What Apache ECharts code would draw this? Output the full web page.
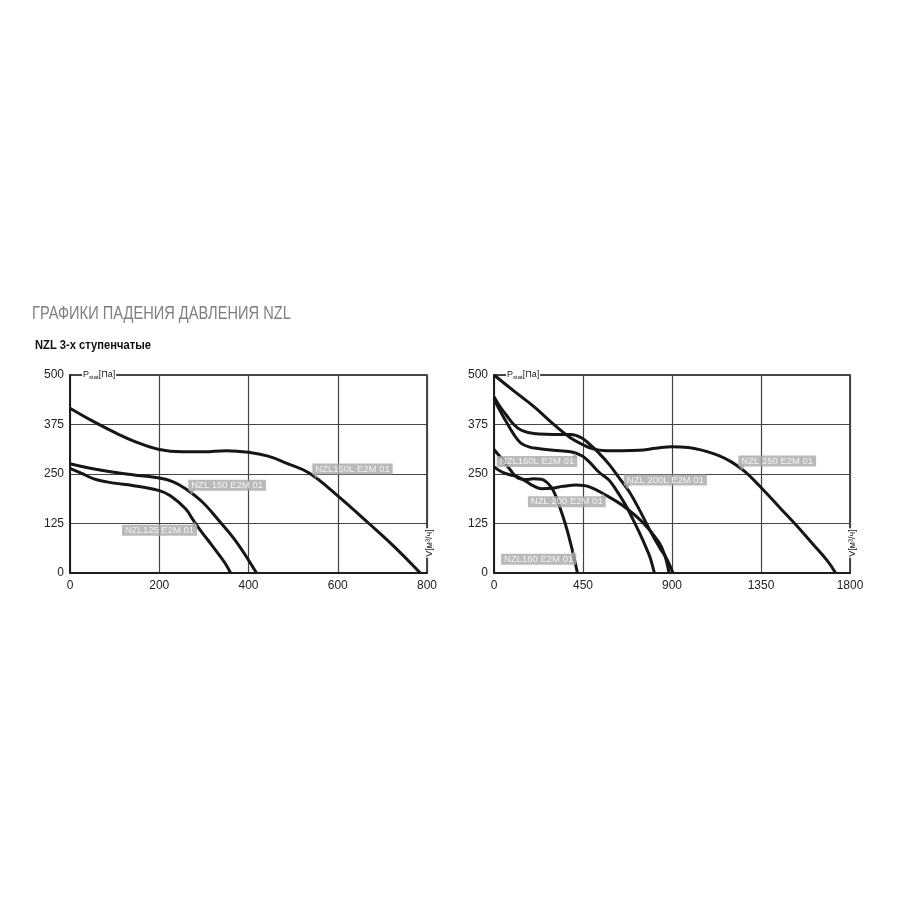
<!DOCTYPE html>
<html><head><meta charset="utf-8">
<script src="https://cdn.jsdelivr.net/npm/echarts@6/dist/echarts.min.js"></script>
<style>html,body{margin:0;padding:0;background:#fff}#c{width:900px;height:900px}</style>
</head><body><div id="c"></div>
<script>
// ---- tick values ----
const yTicks = [0, 125, 250, 375, 500];
const xTicksLeft = [0, 200, 400, 600, 800];
const xTicksRight = [0, 450, 900, 1350, 1800];

// ---- left chart curves (V м³/ч, P Па) ----
const nzl150L_V = [0, 50, 100, 150, 200, 250, 300, 350, 400, 444, 486, 535, 600, 670, 727, 785];
const nzl150L_P = [416, 384, 355, 330, 312, 306, 306, 309, 305, 295, 277, 253, 195, 125, 66, 0];
const nzl150_V = [0, 58, 140, 200, 230, 259, 296, 334, 372, 418];
const nzl150_P = [276, 262, 248, 240, 231, 213, 180, 132, 80, 0];
const nzl125_V = [0, 25, 58, 99, 140, 200, 225, 259, 277, 296, 316, 334, 348, 360];
const nzl125_P = [264, 252, 236, 227, 221, 208, 195, 162, 132, 102, 73, 46, 24, 0];

// ---- right chart curves ----
const nzl250_V = [0, 100, 202, 314, 388, 450, 497, 564, 649, 734, 818, 900, 982, 1045, 1140, 1202, 1266, 1350, 1443, 1524, 1605, 1687, 1727];
const nzl250_P = [500, 460, 420, 370, 341, 324, 314, 309, 309, 310, 315, 319, 317, 311, 296, 280, 257, 216, 166, 123, 77, 30, 0];
const nzl200L_V = [0, 30, 62, 100, 136, 180, 230, 300, 388, 444, 490, 530, 581, 630, 684, 740, 786, 840, 871, 905];
const nzl200L_P = [445, 420, 399, 375, 361, 354, 351, 350, 350, 341, 322, 303, 275, 242, 205, 155, 110, 62, 38, 0];
const nzl160L_V = [0, 30, 62, 100, 136, 180, 230, 300, 388, 444, 479, 530, 581, 620, 666, 700, 734, 770, 790, 811];
const nzl160L_P = [440, 410, 382, 350, 328, 318, 314, 310, 306, 296, 282, 255, 235, 208, 171, 138, 103, 63, 38, 0];
const nzl200_V = [0, 40, 80, 120, 160, 200, 240, 290, 350, 416, 479, 564, 649, 751, 835, 865, 885];
const nzl200_P = [268, 255, 248, 243, 232, 220, 213, 214, 219, 222, 218, 197, 171, 128, 77, 42, 0];
const nzl160_V = [0, 40, 80, 120, 160, 200, 240, 270, 300, 330, 360, 390, 422];
const nzl160_P = [312, 288, 262, 240, 236, 238, 237, 228, 208, 170, 125, 70, 0];

// ---- curve names ----
const leftNames = ['NZL150L E2M 01', 'NZL 150 E2M 01', 'NZL125 E2M 01'];
const rightNames = ['NZL 250 E2M 01', 'NZL 200L E2M 01', 'NZL160L E2M 01', 'NZL 200 E2M 01', 'NZL160 E2M 01'];

// ---- label anchor points on curves (data space) and pointer direction ----
const leftAnchors = [[553, 240, 'down'], [275, 199, 'down'], [277, 128, 'up']];
const rightAnchors = [[1258, 260, 'down'], [679, 212, 'down'], [403, 302, 'up'], [547, 200, 'up'], [398, 55, 'up']];

const zip = (a, b) => a.map((x, i) => [x, b[i]]);
const leftCurves = [zip(nzl150L_V, nzl150L_P), zip(nzl150_V, nzl150_P), zip(nzl125_V, nzl125_P)];
const rightCurves = [zip(nzl250_V, nzl250_P), zip(nzl200L_V, nzl200L_P), zip(nzl160L_V, nzl160L_P), zip(nzl200_V, nzl200_P), zip(nzl160_V, nzl160_P)];

const G1 = {left: 70, top: 375, width: 357, height: 198};
const G2 = {left: 494, top: 375, width: 356, height: 198};
const FONT = 'Liberation Sans, Arial, sans-serif';
const LABEL_GRAY = '#a9a9a9';

function xAxisFor(idx, ticks) {
  return {
    type: 'value', gridIndex: idx, min: ticks[0], max: ticks[ticks.length - 1],
    interval: ticks[1] - ticks[0],
    axisLine: {show: true, lineStyle: {color: '#111', width: 1.5}},
    axisTick: {show: false},
    splitLine: {show: true, lineStyle: {color: '#444', width: 1.2}},
    axisLabel: {color: '#222', fontSize: 12, fontFamily: FONT, margin: 7, showMinLabel: true, showMaxLabel: true,
      formatter: v => String(v)}
  };
}
function yAxisFor(idx) {
  return {
    type: 'value', gridIndex: idx, min: yTicks[0], max: yTicks[yTicks.length - 1],
    interval: yTicks[1] - yTicks[0],
    axisLine: {show: true, lineStyle: {color: '#111', width: 1.5}},
    axisTick: {show: false},
    splitLine: {show: true, lineStyle: {color: '#444', width: 1.2}},
    axisLabel: {color: '#222', fontSize: 12, fontFamily: FONT, margin: 6, showMinLabel: true, showMaxLabel: true,
      formatter: v => String(v)}
  };
}
function curveSeries(idx, name, data) {
  return {
    type: 'line', name: name, xAxisIndex: idx, yAxisIndex: idx, data: data,
    smooth: 0.4, symbol: 'none', z: 3,
    lineStyle: {color: '#161616', width: 3}
  };
}
function labelSeries(idx, names, anchors) {
  return {
    type: 'scatter', xAxisIndex: idx, yAxisIndex: idx, z: 6, silent: true,
    symbol: 'rect', symbolSize: 1, itemStyle: {color: 'rgba(0,0,0,0)'},
    data: anchors.map((a, i) => ({
      value: [a[0], a[1]], name: names[i],
      label: a[2] === 'down'
        ? {position: [-4, -3], align: 'left', verticalAlign: 'bottom'}
        : {position: [4, 3], align: 'right', verticalAlign: 'top'}
    })),
    label: {
      show: true, formatter: p => p.name, color: '#fff', fontSize: 9.5, fontFamily: FONT,
      lineHeight: 9, backgroundColor: LABEL_GRAY, padding: [1, 3, 1, 3]
    }
  };
}
function pointerSeries(idx, anchors) {
  return {
    type: 'scatter', xAxisIndex: idx, yAxisIndex: idx, z: 6, silent: true,
    symbol: 'triangle', symbolSize: [6, 5], itemStyle: {color: LABEL_GRAY},
    data: anchors.map(a => ({
      value: [a[0], a[1]],
      symbolRotate: a[2] === 'down' ? 180 : 0,
      symbolOffset: a[2] === 'down' ? [-1, -2] : [1, 2]
    }))
  };
}

const series = [];
leftCurves.forEach((d, i) => series.push(curveSeries(0, leftNames[i], d)));
rightCurves.forEach((d, i) => series.push(curveSeries(1, rightNames[i], d)));
series.push(pointerSeries(0, leftAnchors), pointerSeries(1, rightAnchors));
series.push(labelSeries(0, leftNames, leftAnchors), labelSeries(1, rightNames, rightAnchors));

function pLabel(g) {
  return {
    type: 'text', left: g.left + 12, top: g.top - 6, z: 10,
    style: {
      text: 'P{s|stat}[Па]', fill: '#222', font: '9px ' + FONT, backgroundColor: '#fff', padding: [1, 1],
      rich: {s: {fontSize: 6, fontFamily: FONT, fill: '#222', padding: [4, 0, 0, 0]}}
    }
  };
}
function vLabel(g) {
  return {
    type: 'text', x: g.left + g.width + 3, y: 543, rotation: Math.PI / 2, z: 10,
    style: {
      text: 'V[м³/ч]', fill: '#222', font: '9px ' + FONT, align: 'center', verticalAlign: 'middle',
      backgroundColor: '#fff', padding: [0, 1]
    }
  };
}

const chart = echarts.init(document.getElementById('c'));
chart.setOption({
  animation: false,
  backgroundColor: '#fff',
  grid: [
    Object.assign({show: true, borderColor: '#111', borderWidth: 1.5, containLabel: false}, G1),
    Object.assign({show: true, borderColor: '#111', borderWidth: 1.5, containLabel: false}, G2)
  ],
  xAxis: [xAxisFor(0, xTicksLeft), xAxisFor(1, xTicksRight)],
  yAxis: [yAxisFor(0), yAxisFor(1)],
  series: series,
  graphic: [
    {type: 'text', x: 32, y: 304, scaleX: 0.77, style: {text: 'ГРАФИКИ ПАДЕНИЯ ДАВЛЕНИЯ NZL', fill: '#7f7f7f', font: '19px ' + FONT}},
    {type: 'text', x: 35, y: 339, scaleX: 0.86, style: {text: 'NZL 3-х ступенчатые', fill: '#111', font: 'bold 13px ' + FONT}},
    pLabel(G1), pLabel(G2), vLabel(G1), vLabel(G2)
  ]
});
</script>
</body></html>
